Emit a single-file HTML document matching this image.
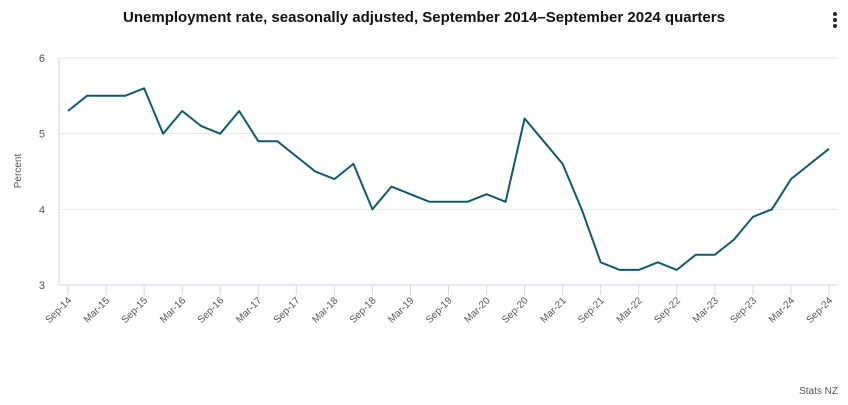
<!DOCTYPE html>
<html><head><meta charset="utf-8"><style>
body{margin:0;background:#fff;font-family:"Liberation Sans",sans-serif;}
</style></head><body>
<svg id="chart" width="848" height="400" xmlns="http://www.w3.org/2000/svg">
<text x="424" y="22" text-anchor="middle" font-size="15" font-weight="bold" fill="#111">Unemployment rate, seasonally adjusted, September 2014–September 2024 quarters</text>
<g fill="#222"><circle cx="835" cy="14" r="2"/><circle cx="835" cy="20" r="2"/><circle cx="835" cy="26" r="2"/></g>
<text transform="translate(21,171) rotate(-90)" text-anchor="middle" font-size="10" fill="#555">Percent</text>
<text x="838" y="394" text-anchor="end" font-size="10" fill="#555">Stats NZ</text>
<g id="grid"></g><g id="axes"></g><g id="series"></g>
</svg>
<script>
const values=[5.3,5.5,5.5,5.5,5.6,5.0,5.3,5.1,5.0,5.3,4.9,4.9,4.7,4.5,4.4,4.6,4.0,4.3,4.2,4.1,4.1,4.1,4.2,4.1,5.2,4.9,4.6,4.0,3.3,3.2,3.2,3.3,3.2,3.4,3.4,3.6,3.9,4.0,4.4,4.6,4.8];
const quarters=[];
const yrs=[14,15,16,17,18,19,20,21,22,23,24];
yrs.forEach((y,i)=>{ if(i>0){quarters.push('Mar-'+y);quarters.push('Jun-'+y);} quarters.push('Sep-'+y); if(i<yrs.length-1) quarters.push('Dec-'+y); });
const yTicks=[3,4,5,6];
const NS='http://www.w3.org/2000/svg';
const x0=68,x1=829,L=59,R=838,yTop=58,yBot=285;
const xs=i=>x0+(x1-x0)*i/(values.length-1);
const ys=v=>yBot-(v-3)/(6-3)*(yBot-yTop);
function mk(t,a,p){const e=document.createElementNS(NS,t);for(const k in a)e.setAttribute(k,a[k]);p.appendChild(e);return e;}
const grid=document.getElementById('grid'),axes=document.getElementById('axes'),ser=document.getElementById('series');
yTicks.forEach(t=>{
 if(t>3){const g=mk('line',{x1:L,x2:R,y1:ys(t),y2:ys(t),stroke:'#e6e6e6','stroke-width':1},grid);
 
 }
 const tx=mk('text',{x:45,y:ys(t)+4,'text-anchor':'end','font-size':11,fill:'#555'},axes);tx.textContent=t;
 
 
});
const ya=mk('line',{x1:L,x2:L,y1:yTop,y2:yBot,stroke:'#ccd6eb'},axes);


const xa=mk('line',{x1:L,x2:R,y1:yBot,y2:yBot,stroke:'#ccd6eb'},axes);


quarters.forEach((q,i)=>{ if(i%2) return; const x=xs(i);
 const tk=mk('line',{x1:x,x2:x,y1:yBot,y2:yBot+10,stroke:'#ccd6eb'},axes);
 
 
 const t=mk('text',{transform:`translate(${x+4},${yBot+16}) rotate(-45)`,'text-anchor':'end','font-size':10,fill:'#555'},axes);t.textContent=q;
 
 
});
const p=mk('path',{d:values.map((v,i)=>(i?'L':'M')+xs(i).toFixed(1)+','+ys(v).toFixed(1)).join(''),fill:'none',stroke:'#0f5a6e','stroke-width':2,'stroke-linejoin':'round'},ser);


</script>
</body></html>
